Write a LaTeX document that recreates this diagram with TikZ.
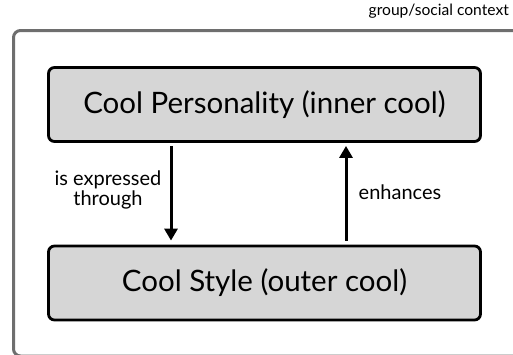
\documentclass[tikz,border=0pt]{standalone}
\usepackage{fontspec}
\setmainfont{Lato}
\usetikzlibrary{arrows.meta}
\definecolor{boxfill}{HTML}{D6D6D6}
\definecolor{framegray}{HTML}{6E6E6E}
\begin{document}
\begin{tikzpicture}[x=1pt,y=-1pt,
  concept/.style={draw=black,line width=2.8pt,fill=boxfill,rounded corners=6pt,minimum width=432pt,minimum height=74pt,inner sep=0pt,font=\fontsize{29.5}{33}\selectfont},
  lbl/.style={font=\fontsize{20}{20.5}\selectfont,align=center,inner sep=0pt},
  link/.style={line width=3pt,-{Triangle[length=12pt,width=13pt]}}]
\useasboundingbox (0,0) rectangle (513,354);
\clip (0,0) rectangle (513,354);
\draw[framegray,line width=3pt,rounded corners=7pt] (520,30.5) -- (13.5,30.5) -- (13.5,356) -- (520,356);
\node[anchor=south east,inner sep=0pt,font=\fontsize{15.6}{17}\selectfont] (ctx) at (509,19) {group/social context};
\node[concept] (inner) at (264.5,104.5) {Cool Personality (inner cool)};
\node[concept] (outer) at (264.5,283) {Cool Style (outer cool)};
\coordinate (a1) at (171,0);
\coordinate (a2) at (346,0);
\draw[link] ([yshift=-3pt]inner.south -| a1) -- ([yshift=4pt]outer.north -| a1);
\draw[link] ([yshift=4pt]outer.north -| a2) -- ([yshift=-3pt]inner.south -| a2);
\node[lbl] (l1) at (108,190) {is expressed\\through};
\node[lbl] (l2) at (400,192) {enhances};
\end{tikzpicture}
\end{document}
